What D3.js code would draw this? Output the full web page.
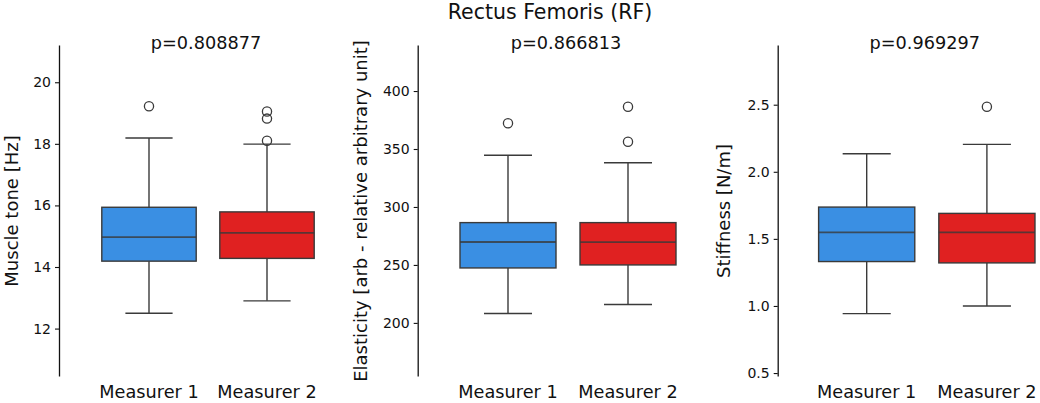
<!DOCTYPE html>
<html>
<head>
<meta charset="utf-8">
<script src="https://cdn.jsdelivr.net/npm/d3@7"></script>
<style>
  body { margin: 0; background: #fff; }
  svg { display: block; font-family: "DejaVu Sans", sans-serif; }
  .tick text { fill: #111; }
</style>
</head>
<body>
<div id="chart"></div>
<script>
// ---- data ----
var categories = ["Measurer 1", "Measurer 2"];
var colors = ["#3a8fe3", "#e02121"];

var toneStats = [
    {lo: 12.50, q1: 14.19, med: 14.97, q3: 15.94, hi: 18.19, out: [19.22]},
    {lo: 12.90, q1: 14.28, med: 15.11, q3: 15.79, hi: 17.99, out: [19.05, 18.82, 18.10]}
];
var elasticityStats = [
    {lo: 208.1, q1: 247.4, med: 269.8, q3: 286.5, hi: 344.6, out: [372.2]},
    {lo: 215.9, q1: 250.0, med: 269.6, q3: 286.5, hi: 338.2, out: [386.4, 356.3]}
];
var stiffnessStats = [
    {lo: 0.943, q1: 1.331, med: 1.548, q3: 1.737, hi: 2.134, out: []},
    {lo: 1.000, q1: 1.321, med: 1.548, q3: 1.690, hi: 2.204, out: [2.485]}
];

var pValues = ["p=0.808877", "p=0.866813", "p=0.969297"];
var yLabels = ["Muscle tone [Hz]", "Elasticity [arb - relative arbitrary unit]", "Stiffness [N/m]"];
var yDomains = [[10.46, 21.21], [154.2, 439.7], [0.478, 2.945]];
var yTickValues = [[12, 14, 16, 18, 20], [200, 250, 300, 350, 400], [0.5, 1.0, 1.5, 2.0, 2.5]];
var yTickFormats = [d3.format("d"), d3.format("d"), d3.format(".1f")];
var suptitle = "Rectus Femoris (RF)";

// ---- layout ----
var W = 1040, H = 403;
var plotTop = 45, plotBottom = 376;
var panels = [
    {spine: 59, left: 90, right: 326, labelX: 12, stats: toneStats},
    {spine: 417.7, left: 448, right: 688, labelX: 361, stats: elasticityStats},
    {spine: 777.7, left: 806.6, right: 1047, labelX: 724, stats: stiffnessStats}
];

var svg = d3.select("#chart").append("svg")
    .attr("width", W)
    .attr("height", H);

svg.append("text")
    .attr("x", 550)
    .attr("y", 19)
    .attr("text-anchor", "middle")
    .attr("font-size", 20.5)
    .attr("fill", "#111")
    .text(suptitle);

var lineColor = "#3a3a3a";

panels.forEach(function(p, i) {
    var g = svg.append("g");

    var x = d3.scaleBand()
        .domain(categories)
        .range([p.left, p.right])
        .paddingInner(0.2)
        .paddingOuter(0.1);

    var y = d3.scaleLinear()
        .domain(yDomains[i])
        .range([plotBottom, plotTop]);

    // y axis (offset spine)
    var yAxis = d3.axisLeft(y)
        .tickValues(yTickValues[i])
        .tickFormat(yTickFormats[i])
        .tickSizeInner(4)
        .tickSizeOuter(0)
        .tickPadding(4);

    var ya = g.append("g")
        .attr("transform", "translate(" + p.spine + ",0)")
        .call(yAxis);
    ya.select(".domain").attr("stroke", "#111").attr("stroke-width", 1.3);
    ya.selectAll(".tick line").attr("stroke", "#111").attr("stroke-width", 1.1);
    ya.selectAll(".tick text").attr("font-size", 14).attr("font-family", "DejaVu Sans");

    // x tick labels only
    var xAxis = d3.axisBottom(x).tickSize(0).tickPadding(0);
    var xa = g.append("g")
        .attr("transform", "translate(0," + 385 + ")")
        .call(xAxis);
    xa.select(".domain").remove();
    xa.selectAll(".tick text")
        .attr("font-size", 17.7)
        .attr("font-family", "DejaVu Sans")
        .attr("dy", "0.71em");

    // y label
    g.append("text")
        .attr("transform", "translate(" + p.labelX + "," + 211 + ") rotate(-90)")
        .attr("text-anchor", "middle")
        .attr("dy", "0.35em")
        .attr("font-size", 18)
        .attr("fill", "#111")
        .text(yLabels[i]);

    // panel title
    g.append("text")
        .attr("x", (p.left + p.right) / 2 - 2)
        .attr("y", 48.5)
        .attr("text-anchor", "middle")
        .attr("font-size", 17.7)
        .attr("fill", "#111")
        .text(pValues[i]);

    // boxes
    var bw = x.bandwidth();
    var boxes = g.selectAll(".box")
        .data(p.stats)
        .enter()
        .append("g")
        .attr("class", "box");

    boxes.each(function(d, j) {
        var b = d3.select(this);
        var cx = x(categories[j]) + bw / 2;
        var capW = bw * 0.5;

        // whiskers
        b.append("line")
            .attr("x1", cx).attr("x2", cx)
            .attr("y1", y(d.q3)).attr("y2", y(d.hi))
            .attr("stroke", lineColor).attr("stroke-width", 1.4);
        b.append("line")
            .attr("x1", cx).attr("x2", cx)
            .attr("y1", y(d.q1)).attr("y2", y(d.lo))
            .attr("stroke", lineColor).attr("stroke-width", 1.4);
        // caps
        [d.hi, d.lo].forEach(function(v) {
            b.append("line")
                .attr("x1", cx - capW / 2).attr("x2", cx + capW / 2)
                .attr("y1", y(v)).attr("y2", y(v))
                .attr("stroke", lineColor).attr("stroke-width", 1.4);
        });

        // box
        b.append("rect")
            .attr("x", x(categories[j]))
            .attr("y", y(d.q3))
            .attr("width", bw)
            .attr("height", y(d.q1) - y(d.q3))
            .attr("fill", colors[j])
            .attr("stroke", lineColor)
            .attr("stroke-width", 1.4);

        // median
        b.append("line")
            .attr("x1", x(categories[j])).attr("x2", x(categories[j]) + bw)
            .attr("y1", y(d.med)).attr("y2", y(d.med))
            .attr("stroke", lineColor)
            .attr("stroke-opacity", 0.8)
            .attr("stroke-width", 1.8);

        // outliers
        b.selectAll("circle")
            .data(d.out)
            .enter()
            .append("circle")
            .attr("cx", cx)
            .attr("cy", v => y(v))
            .attr("r", 4.6)
            .attr("fill", "none")
            .attr("stroke", lineColor)
            .attr("stroke-width", 1.3);
    });
});
</script>
</body>
</html>
